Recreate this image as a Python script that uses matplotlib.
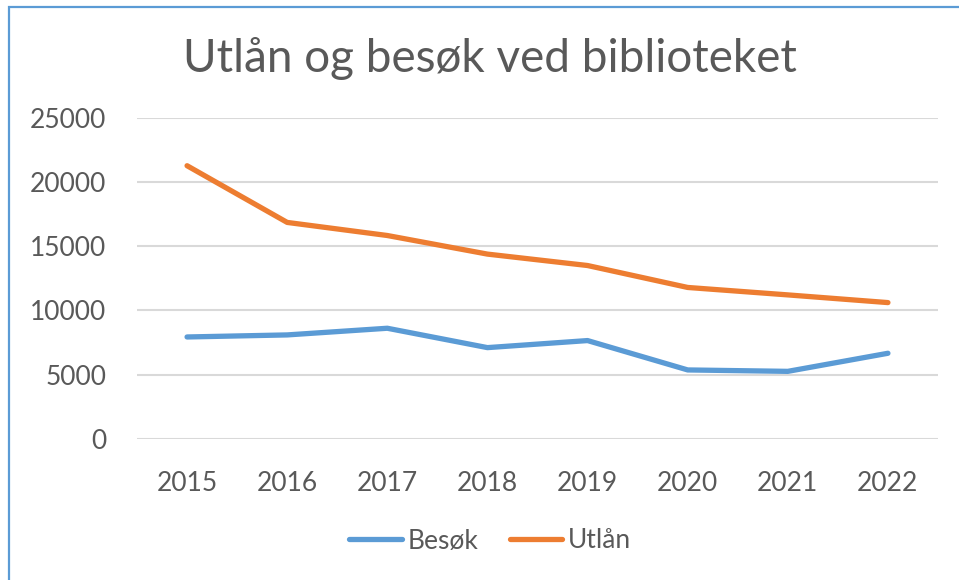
import matplotlib.pyplot as plt
from matplotlib.patches import Rectangle

years = ['2015', '2016', '2017', '2018', '2019', '2020', '2021', '2022']
besok = [7930, 8090, 8610, 7100, 7650, 5360, 5250, 6660]
utlan = [21280, 16860, 15840, 14390, 13500, 11790, 11210, 10610]
yticks = [0, 5000, 10000, 15000, 20000, 25000]

plt.rcParams['font.family'] = ['Lato', 'DejaVu Sans']
grey = '#595959'

fig = plt.figure(figsize=(9.59, 5.8), dpi=100)
ax = fig.add_axes([137/959, 1-438.7/580, 801/959, 320.7/580])

x = range(len(years))
ax.plot(x, besok, color='#5B9BD5', lw=3.8, solid_capstyle='round', solid_joinstyle='round', label='Besøk')
ax.plot(x, utlan, color='#ED7D31', lw=3.8, solid_capstyle='round', solid_joinstyle='round', label='Utlån')

ax.set_xlim(-0.5, len(years)-0.5)
ax.set_ylim(0, 25000)
ax.set_yticks(yticks)
ax.set_yticklabels([str(v) for v in yticks])
ax.set_xticks(list(x))
ax.set_xticklabels(years)
ax.tick_params(axis='both', length=0, labelsize=19, colors=grey)
ax.tick_params(axis='y', pad=22)
ax.tick_params(axis='x', pad=23)
for s in ax.spines.values():
    s.set_visible(False)
ax.grid(axis='y', color='#D9D9D9', lw=1.5)
ax.set_axisbelow(True)

fig.text(490/959, 1-58/580, 'Utlån og besøk ved biblioteket', ha='center', va='center',
         fontsize=33, color=grey)

fig.legend(loc='center', bbox_to_anchor=(490/959, 1-541/580), ncol=2, frameon=False,
           fontsize=19, labelcolor=grey, handlelength=2.0, handletextpad=0.2, columnspacing=1.2)

# chart border (screenshot cuts off right/bottom)
fig.patches.append(Rectangle((9/959, -0.1), 1.2, 1.1 - 7/580, transform=fig.transFigure,
                             fill=False, edgecolor='#5B9BD5', lw=1.6))

fig.savefig('out.png', dpi=100)
